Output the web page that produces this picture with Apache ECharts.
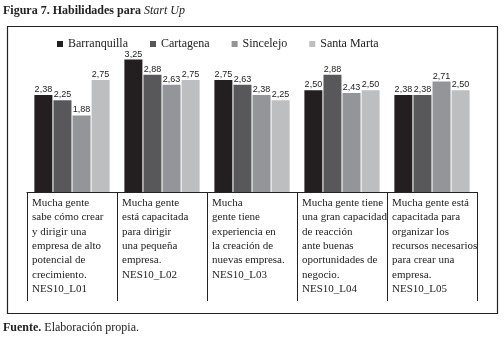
<!DOCTYPE html>
<html>
<head>
<meta charset="utf-8">
<script src="https://cdn.jsdelivr.net/npm/echarts@6/dist/echarts.min.js"></script>
<style>
  html, body { margin: 0; padding: 0; background: #fff; }
  #chart { width: 504px; height: 350px; }
</style>
</head>
<body>
<div id="chart"></div>
<script>
// datos de la figura
var categorias = [
  'Mucha gente\nsabe cómo crear\ny dirigir una\nempresa de alto\npotencial de\ncrecimiento.\nNES10_L01',
  'Mucha gente\nestá capacitada\npara dirigir\nuna pequeña\nempresa.\nNES10_L02',
  'Mucha\ngente tiene\nexperiencia en\nla creación de\nnuevas empresa.\nNES10_L03',
  'Mucha gente tiene\nuna gran capacidad\nde reacción\nante buenas\noportunidades de\nnegocio.\nNES10_L04',
  'Mucha gente está\ncapacitada para\norganizar los\nrecursos necesarios\npara crear una\nempresa.\nNES10_L05'
]
var barranquilla = [2.38, 3.25, 2.75, 2.50, 2.38]
var cartagena = [2.25, 2.88, 2.63, 2.88, 2.38]
var sincelejo = [1.88, 2.63, 2.38, 2.43, 2.71]
var santaMarta = [2.75, 2.75, 2.25, 2.50, 2.50]

var serif = '"Liberation Serif", "DejaVu Serif", serif'
var colores = ['#231f20', '#58585a', '#939598', '#bcbec0']

var chart = echarts.init(document.getElementById('chart'))

function serie(nombre, datos) {
  return {
    name: nombre,
    type: 'bar',
    barWidth: 18,
    barGap: '6%',
    data: datos,
    label: {
      show: true,
      position: 'top',
      distance: 1,
      fontFamily: '"Liberation Sans", Arial, sans-serif',
      fontSize: 9,
      color: '#222',
      formatter: function (p) {
        return p.value.toFixed(2).replace('.', ',')
      }
    }
  }
}

chart.setOption({
  backgroundColor: '#fff',
  animation: false,
  color: colores,
  title: [
    {
      text: '{b|Figura 7. Habilidades para }{i|Start Up}',
      left: 3,
      top: 5,
      padding: 0,
      textStyle: {
        rich: {
          b: { fontFamily: serif, fontSize: 12, fontWeight: 'bold', color: '#222' },
          i: { fontFamily: serif, fontSize: 12, fontStyle: 'italic', fontWeight: 'normal', color: '#222' }
        }
      }
    },
    {
      text: '{b|Fuente. }{n|Elaboración propia.}',
      left: 3,
      top: 322,
      padding: 0,
      textStyle: {
        fontWeight: 'normal',
        rich: {
          b: { fontFamily: serif, fontSize: 12, fontWeight: 'bold', color: '#222' },
          n: { fontFamily: serif, fontSize: 12, fontWeight: 'normal', color: '#222' }
        }
      }
    }
  ],
  legend: {
    top: 33,
    left: 52,
    icon: 'rect',
    itemWidth: 6,
    itemHeight: 6,
    itemGap: 22,
    textStyle: { fontFamily: serif, fontSize: 12, color: '#222' },
    data: ['Barranquilla', 'Cartagena', 'Sincelejo', 'Santa Marta']
  },
  graphic: [
    {
      type: 'rect',
      shape: { x: 7.5, y: 26.5, width: 490, height: 287 },
      style: { fill: 'none', stroke: '#222', lineWidth: 1.2 }
    }
  ],
  grid: {
    left: 27,
    right: 27,
    top: 29,
    bottom: 158
  },
  xAxis: {
    type: 'category',
    data: categorias,
    axisLine: { lineStyle: { color: '#222', width: 1 } },
    axisTick: {
      show: true,
      interval: 0,
      length: 109,
      lineStyle: { color: '#222', width: 1 }
    },
    axisLabel: {
      interval: 0,
      margin: 4,
      width: 80,
      align: 'center',
      verticalAlign: 'top',
      formatter: function (v) {
        return v.split('\n').map(function (l) { return '{a|' + l + '}' }).join('\n')
      },
      rich: {
        a: {
          align: 'left',
          fontFamily: serif,
          fontSize: 11,
          lineHeight: 14.3,
          color: '#222'
        }
      }
    }
  },
  yAxis: {
    type: 'value',
    show: false,
    min: 0,
    max: 4,
    splitLine: { show: false }
  },
  series: [
    serie('Barranquilla', barranquilla),
    serie('Cartagena', cartagena),
    serie('Sincelejo', sincelejo),
    serie('Santa Marta', santaMarta)
  ]
})
</script>
</body>
</html>
